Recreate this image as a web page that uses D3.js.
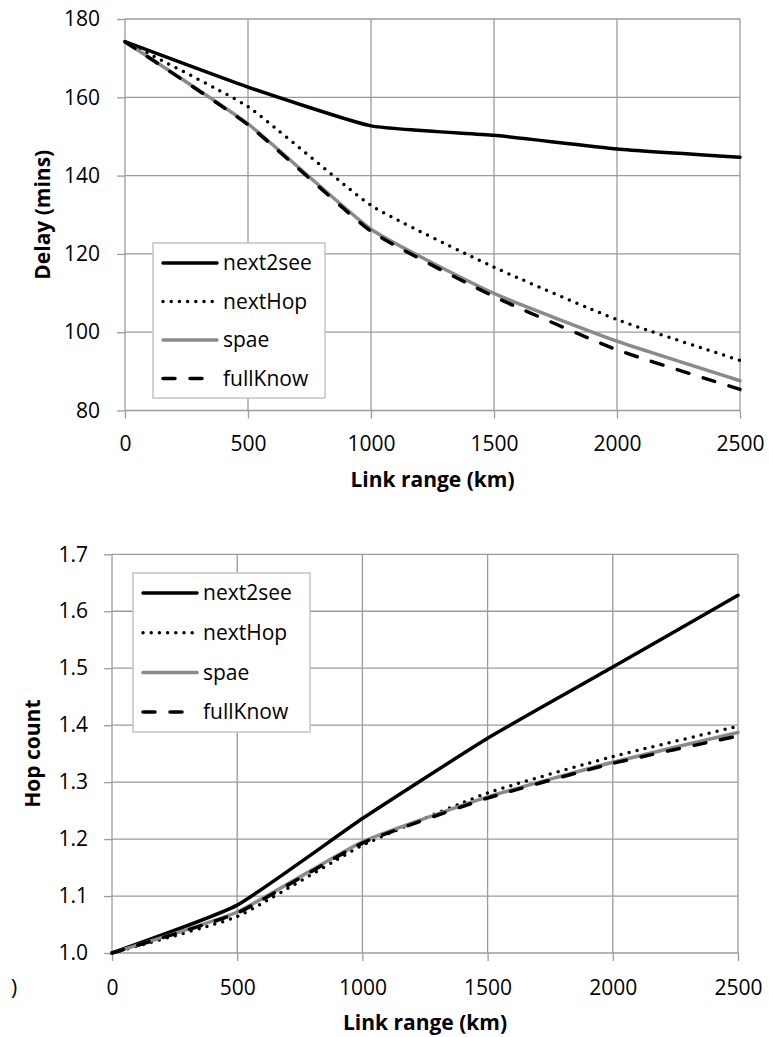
<!DOCTYPE html>
<html>
<head>
<meta charset="utf-8">
<script src="https://cdn.jsdelivr.net/npm/d3@7"></script>
<style>
  html, body { margin: 0; padding: 0; background: #fff; }
  svg text { font-family: "Open Sans", Lato, sans-serif; fill: #000; }
</style>
</head>
<body>
<div id="chart-container"></div>
<script>
// shared x values (link range, km)
const linkRange = [0, 500, 1000, 1500, 2000, 2500];
const seriesNames = ["next2see", "nextHop", "spae", "fullKnow"];

// delay (mins)
const delayNext2see = [174.2, 162.6, 152.7, 150.3, 146.8, 144.7];
const delayNextHop  = [174.2, 157.6, 132.4, 116.6, 103.2, 92.8];
const delaySpae     = [174.2, 153.2, 126.3, 109.9, 97.7, 87.6];
const delayFullKnow = [174.2, 153.0, 125.8, 109.1, 95.5, 85.4];
const delayTicks = [80, 100, 120, 140, 160, 180];

// hop count
const hopNext2see = [1.0, 1.084, 1.236, 1.377, 1.502, 1.628];
const hopNextHop  = [1.0, 1.064, 1.189, 1.281, 1.345, 1.398];
const hopSpae     = [1.0, 1.072, 1.195, 1.274, 1.335, 1.387];
const hopFullKnow = [1.0, 1.070, 1.193, 1.272, 1.333, 1.381];
const hopTicks = [1.0, 1.1, 1.2, 1.3, 1.4, 1.5, 1.6, 1.7];

const xTicks = [0, 500, 1000, 1500, 2000, 2500];

const styles = {
  next2see: { color: "#000", dash: null, legendEnd: 64 },
  nextHop:  { color: "#000", dash: "0,8.2", legendEnd: 62 },
  spae:     { color: "#8a8a8a", dash: null, legendEnd: 64 },
  fullKnow: { color: "#000", dash: "12,15", legendEnd: 49 }
};

const W = 769, H = 1037;
const svg = d3.select("#chart-container")
  .append("svg")
  .attr("width", W)
  .attr("height", H);

function drawChart(cfg) {
  const g = svg.append("g");

  const x = d3.scaleLinear().domain([0, 2500]).range([cfg.left, cfg.right]);
  const y = d3.scaleLinear().domain(cfg.yDomain).range([cfg.bottom, cfg.top]);

  // grid
  g.append("g").selectAll("line")
    .data(cfg.yTicks).join("line")
    .attr("x1", cfg.left).attr("x2", cfg.right)
    .attr("y1", d => y(d)).attr("y2", d => y(d))
    .attr("stroke", "#9b9b9b").attr("stroke-width", 1.3);
  g.append("g").selectAll("line")
    .data(xTicks).join("line")
    .attr("x1", d => x(d)).attr("x2", d => x(d))
    .attr("y1", cfg.top).attr("y2", cfg.bottom)
    .attr("stroke", "#9b9b9b").attr("stroke-width", 1.3);

  // axes
  const yAxis = g.append("g")
    .attr("transform", `translate(${cfg.left},0)`)
    .call(d3.axisLeft(y).tickValues(cfg.yTicks).tickFormat(cfg.yFormat)
      .tickSize(8).tickSizeOuter(0).tickPadding(cfg.yPad));
  const xAxis = g.append("g")
    .attr("transform", `translate(0,${cfg.bottom})`)
    .call(d3.axisBottom(x).tickValues(xTicks).tickFormat(d3.format("d"))
      .tickSize(8).tickSizeOuter(0).tickPadding(cfg.xPad));
  [yAxis, xAxis].forEach(a => {
    a.select(".domain").remove();
    a.selectAll("line").attr("stroke", "#9b9b9b").attr("stroke-width", 1.3);
    a.selectAll("text").attr("font-size", 21).attr("font-family", "'Open Sans', sans-serif").attr("fill", "#000");
  });

  // series, lightly smoothed like the spreadsheet original
  const line = d3.line()
    .x((d, i) => x(linkRange[i]))
    .y(d => y(d))
    .curve(d3.curveCardinal.tension(0.55));

  seriesNames.forEach((name, k) => {
    const s = styles[name];
    g.append("path")
      .datum(cfg.series[k])
      .attr("d", line)
      .attr("fill", "none")
      .attr("stroke", s.color)
      .attr("stroke-width", 3.5)
      .attr("stroke-linecap", "round")
      .attr("stroke-linejoin", "round")
      .attr("stroke-dasharray", s.dash);
  });

  // axis titles
  g.append("text")
    .attr("x", (cfg.left + cfg.right) / 2).attr("y", cfg.xTitleY)
    .attr("text-anchor", "middle")
    .attr("font-size", 21).attr("font-weight", "bold")
    .text("Link range (km)");

  g.append("text")
    .attr("transform", `translate(${cfg.yTitleX},${(cfg.top + cfg.bottom) / 2}) rotate(-90)`)
    .attr("text-anchor", "middle")
    .attr("font-size", 21).attr("font-weight", "bold")
    .text(cfg.yTitle);

  // legend
  const lg = g.append("g").attr("transform", `translate(${cfg.legend.x},${cfg.legend.y})`);
  lg.append("rect")
    .attr("width", cfg.legend.w).attr("height", cfg.legend.h)
    .attr("fill", "#fff").attr("stroke", "#c4c4c4").attr("stroke-width", 1.5);
  seriesNames.forEach((name, k) => {
    const s = styles[name];
    const yy = cfg.legend.first + k * cfg.legend.step;
    lg.append("line")
      .attr("x1", 10).attr("x2", s.legendEnd)
      .attr("y1", yy).attr("y2", yy)
      .attr("stroke", s.color).attr("stroke-width", 3.5)
      .attr("stroke-linecap", "round")
      .attr("stroke-dasharray", s.dash);
    lg.append("text")
      .attr("x", 70).attr("y", yy).attr("dy", "0.35em")
      .attr("font-size", 21)
      .text(name);
  });
}

drawChart({
  left: 125, right: 740, top: 19, bottom: 410.5,
  yDomain: [80, 180], yTicks: delayTicks, yFormat: d3.format("d"),
  yPad: 17, xPad: 18,
  series: [delayNext2see, delayNextHop, delaySpae, delayFullKnow],
  xTitleY: 487, yTitleX: 50, yTitle: "Delay (mins)",
  legend: { x: 153, y: 243, w: 172, h: 155, first: 20, step: 38.5 }
});

drawChart({
  left: 112, right: 738, top: 554.3, bottom: 953,
  yDomain: [1.0, 1.7], yTicks: hopTicks, yFormat: d3.format(".1f"),
  yPad: 16, xPad: 19,
  series: [hopNext2see, hopNextHop, hopSpae, hopFullKnow],
  xTitleY: 1030, yTitleX: 40, yTitle: "Hop count",
  legend: { x: 133, y: 573, w: 177, h: 159, first: 20, step: 39.7 }
});

// clipped leftover label at the far left of the lower chart
svg.append("text")
  .attr("x", 11).attr("y", 995)
  .attr("font-size", 21)
  .text(")");
</script>
</body>
</html>
